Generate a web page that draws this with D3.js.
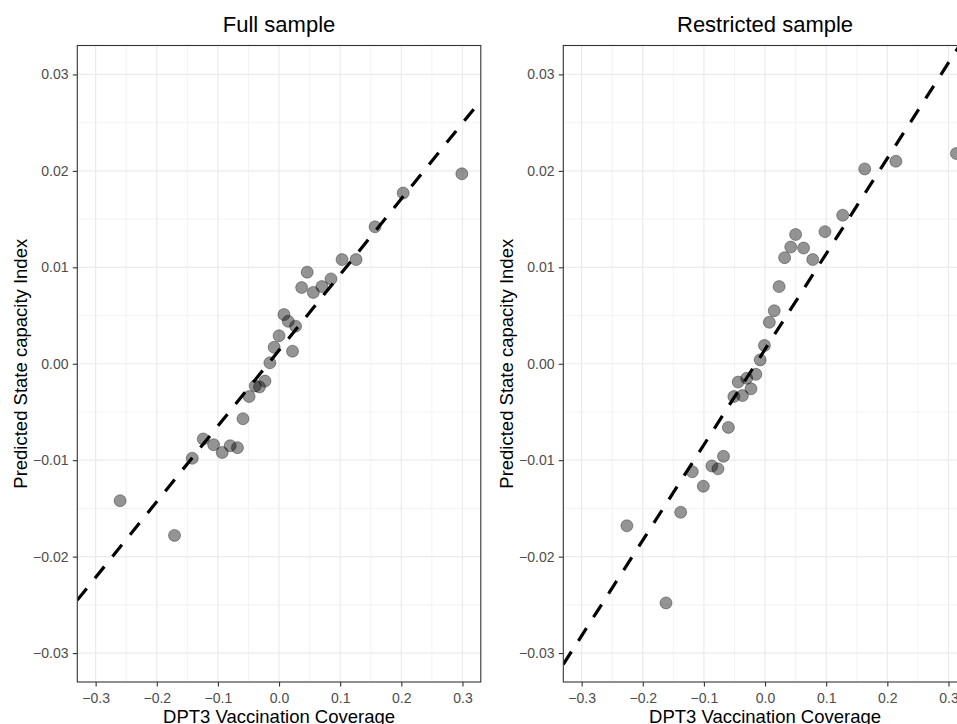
<!DOCTYPE html>
<html>
<head>
<meta charset="utf-8">
<script src="https://cdn.jsdelivr.net/npm/d3@7"></script>
<style>
  html, body { margin: 0; padding: 0; background: #ffffff; overflow: hidden; }
  svg { display: block; font-family: "Liberation Sans", Arial, Helvetica, sans-serif; }
</style>
</head>
<body>
<svg id="chart" width="957" height="724"></svg>
<script>
// ---------- data ----------
const panelTitles = ["Full sample", "Restricted sample"];
const xAxisTitle = "DPT3 Vaccination Coverage";
const yAxisTitle = "Predicted State capacity Index";

const fullX = [0.299, 0.203, 0.157, 0.103, 0.126, 0.046, 0.037, 0.056, 0.070, 0.085,
               0.008, 0.015, 0.027, 0.000, -0.008, 0.022, -0.015, -0.023, -0.039, -0.032,
               -0.049, -0.059, -0.124, -0.107, -0.093, -0.080, -0.068, -0.142, -0.260, -0.171];
const fullY = [0.0197, 0.0177, 0.0142, 0.0108, 0.0108, 0.0095, 0.0079, 0.0074, 0.0080, 0.0088,
               0.0051, 0.0044, 0.0039, 0.0029, 0.0017, 0.0013, 0.0001, -0.0018, -0.0023, -0.0024,
               -0.0034, -0.0057, -0.0078, -0.0084, -0.0092, -0.0085, -0.0087, -0.0098, -0.0142, -0.0178];

const restrictedX = [0.313, 0.214, 0.163, 0.127, 0.098, 0.050, 0.042, 0.063, 0.032, 0.078,
                     0.023, 0.015, 0.007, -0.001, -0.008, -0.015, -0.030, -0.044, -0.023, -0.037,
                     -0.051, -0.060, -0.068, -0.087, -0.077, -0.119, -0.101, -0.138, -0.226, -0.162];
const restrictedY = [0.0218, 0.0210, 0.0202, 0.0154, 0.0137, 0.0134, 0.0121, 0.0120, 0.0110, 0.0108,
                     0.0080, 0.0055, 0.0043, 0.0019, 0.0004, -0.0011, -0.0015, -0.0019, -0.0026, -0.0033,
                     -0.0034, -0.0066, -0.0096, -0.0106, -0.0109, -0.0112, -0.0127, -0.0154, -0.0168, -0.0248];

// dashed reference lines: [intercept, slope]
const fullFit = [0.0014, 0.0785];
const restrictedFit = [0.0015, 0.099];

const xTicks = [-0.3, -0.2, -0.1, 0.0, 0.1, 0.2, 0.3];
const xMinorTicks = [-0.25, -0.15, -0.05, 0.05, 0.15, 0.25];
const yTicks = [-0.03, -0.02, -0.01, 0.00, 0.01, 0.02, 0.03];
const yMinorTicks = [-0.025, -0.015, -0.005, 0.005, 0.015, 0.025];
const xDomain = [-0.33, 0.33];
const yDomain = [-0.033, 0.033];

// ---------- layout ----------
const svg = d3.select("#chart");
const panelW = 403.5, panelTop = 45.5, panelBottom = 682;
const panelLefts = [77.3, 563.3];
const panelData = [
  { xs: fullX, ys: fullY, fit: fullFit },
  { xs: restrictedX, ys: restrictedY, fit: restrictedFit }
];
const defs = svg.append("defs");

panelData.forEach((pd, i) => {
  const L = panelLefts[i];
  const x = d3.scaleLinear().domain(xDomain).range([L, L + panelW]);
  const y = d3.scaleLinear().domain(yDomain).range([panelBottom, panelTop]);
  const g = svg.append("g");

  const clipId = "clip" + i;
  defs.append("clipPath").attr("id", clipId)
    .append("rect").attr("x", L).attr("y", panelTop).attr("width", panelW).attr("height", panelBottom - panelTop);

  // grid minor
  g.selectAll(".vminor").data(xMinorTicks).enter().append("line")
    .attr("x1", d => x(d)).attr("x2", d => x(d)).attr("y1", panelTop).attr("y2", panelBottom)
    .attr("stroke", "#ebebeb").attr("stroke-width", 0.6);
  g.selectAll(".hminor").data(yMinorTicks).enter().append("line")
    .attr("y1", d => y(d)).attr("y2", d => y(d)).attr("x1", L).attr("x2", L + panelW)
    .attr("stroke", "#ebebeb").attr("stroke-width", 0.6);
  // grid major
  g.selectAll(".vmajor").data(xTicks).enter().append("line")
    .attr("x1", d => x(d)).attr("x2", d => x(d)).attr("y1", panelTop).attr("y2", panelBottom)
    .attr("stroke", "#ebebeb").attr("stroke-width", 1.2);
  g.selectAll(".hmajor").data(yTicks).enter().append("line")
    .attr("y1", d => y(d)).attr("y2", d => y(d)).attr("x1", L).attr("x2", L + panelW)
    .attr("stroke", "#ebebeb").attr("stroke-width", 1.2);

  const plot = g.append("g").attr("clip-path", `url(#${clipId})`);

  // points
  plot.selectAll("circle").data(pd.xs.map((v, k) => [v, pd.ys[k]])).enter().append("circle")
    .attr("cx", d => x(d[0])).attr("cy", d => y(d[1])).attr("r", 6)
    .attr("fill", "rgba(0,0,0,0.42)").attr("stroke", "rgba(0,0,0,0.35)").attr("stroke-width", 1);

  // dashed line
  const lineGen = d3.line().x(d => x(d)).y(d => y(pd.fit[0] + pd.fit[1] * d));
  plot.append("path").datum(xDomain).attr("d", lineGen)
    .attr("fill", "none").attr("stroke", "#000").attr("stroke-width", 3.2)
    .attr("stroke-dasharray", "15,13");

  // border
  g.append("rect").attr("x", L).attr("y", panelTop).attr("width", panelW).attr("height", panelBottom - panelTop)
    .attr("fill", "none").attr("stroke", "#333333").attr("stroke-width", 1.1);

  // axes
  const yAxis = d3.axisLeft(y).tickValues(yTicks).tickFormat(d3.format(".2f"))
    .tickSize(4.5).tickPadding(4.3);
  const ya = g.append("g").attr("transform", `translate(${L},0)`).call(yAxis);
  ya.select(".domain").remove();
  ya.selectAll("line").attr("stroke", "#333333").attr("stroke-width", 1.1);
  ya.selectAll("text").attr("fill", "#4d4d4d").style("font-size", "14px")
    .style("font-family", '"Liberation Sans", Arial, sans-serif');

  const xAxis = d3.axisBottom(x).tickValues(xTicks).tickFormat(d3.format(".1f"))
    .tickSize(4.5).tickPadding(6.5);
  const xa = g.append("g").attr("transform", `translate(0,${panelBottom})`).call(xAxis);
  xa.select(".domain").remove();
  xa.selectAll("line").attr("stroke", "#333333").attr("stroke-width", 1.1);
  xa.selectAll("text").attr("fill", "#4d4d4d").style("font-size", "14px")
    .style("font-family", '"Liberation Sans", Arial, sans-serif');

  // titles
  const cx = L + panelW / 2;
  g.append("text").attr("x", cx).attr("y", 32).attr("text-anchor", "middle")
    .style("font-size", "22px").attr("fill", "#000").text(panelTitles[i]);
  g.append("text").attr("x", cx).attr("y", 723).attr("text-anchor", "middle")
    .style("font-size", "18.5px").attr("fill", "#000").text(xAxisTitle);
  g.append("text").attr("transform", `translate(${L - 50},${(panelTop + panelBottom) / 2}) rotate(-90)`)
    .attr("text-anchor", "middle").style("font-size", "18.5px").attr("fill", "#000").text(yAxisTitle);
});
</script>
</body>
</html>
